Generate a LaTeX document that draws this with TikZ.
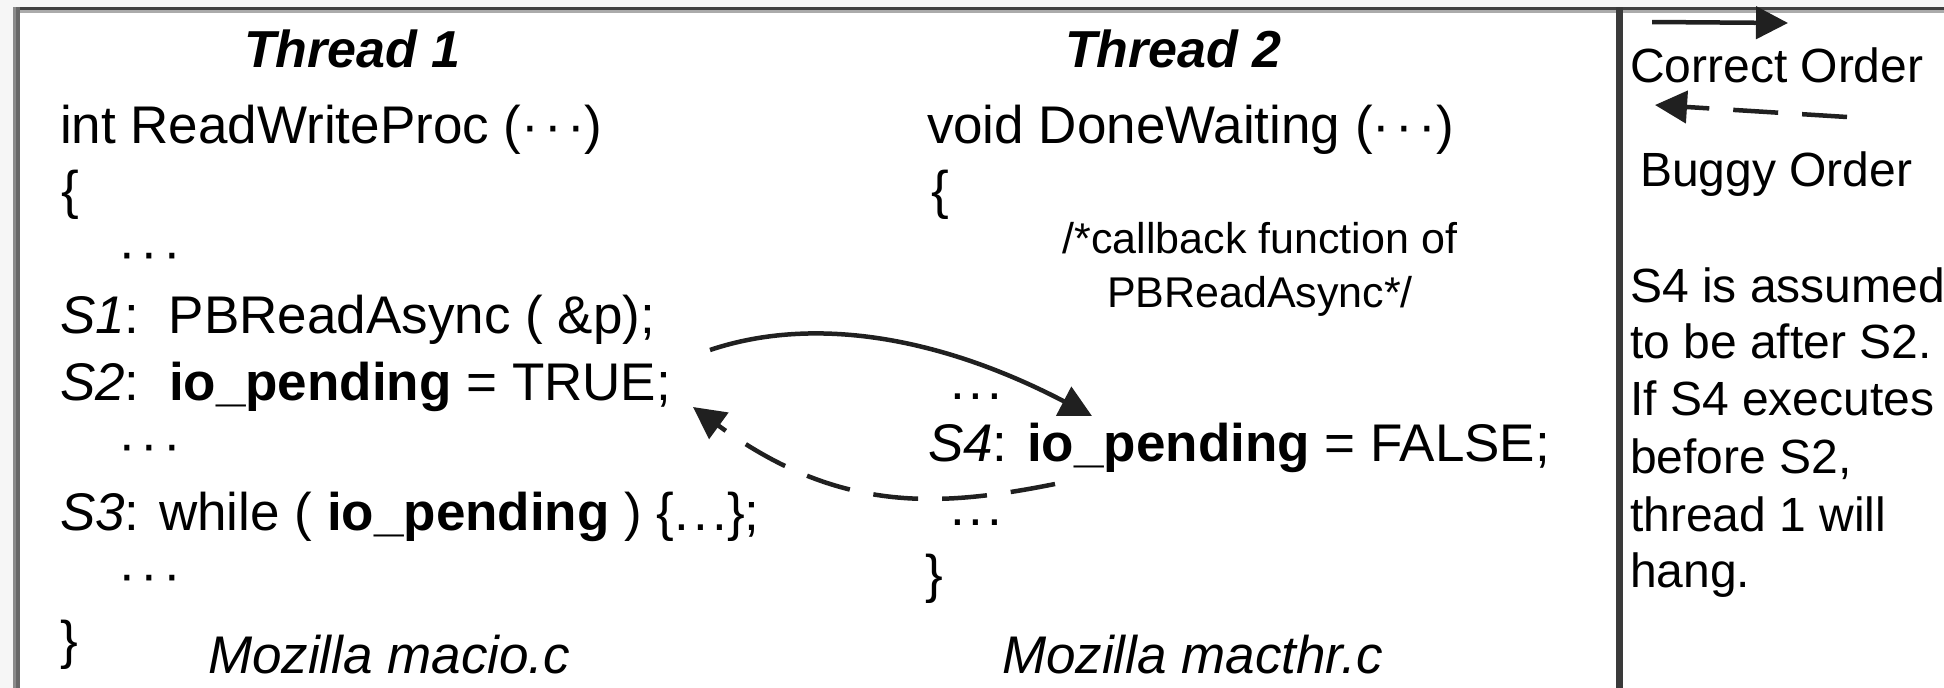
\documentclass[tikz,border=0pt]{standalone}
\usepackage{fontspec}
\setmainfont{Liberation Sans}
\usetikzlibrary{arrows.meta}
\definecolor{linec}{HTML}{202020}
\definecolor{topdark}{HTML}{404040}
\definecolor{toplight}{HTML}{ABABAB}
\definecolor{leftlight}{HTML}{8A8A8A}
\definecolor{leftdark}{HTML}{686868}
\definecolor{divc}{HTML}{3A3A3A}
\definecolor{outerbg}{HTML}{F6F6F6}
\newcommand{\cdd}{·\kern0.1em·\kern0.1em·}
\newcommand{\ddd}{.\kern0.08em.\kern0.08em.}
\begin{document}
\begin{tikzpicture}[x=1pt,y=-1pt,
  txt/.style={anchor=base west, inner sep=0pt, outer sep=0pt},
  code/.style={txt, font=\fontsize{53}{60}\selectfont},
  codeit/.style={txt, font=\fontsize{53}{60}\selectfont\itshape},
  head/.style={txt, font=\fontsize{52}{60}\selectfont\bfseries\itshape},
  note/.style={txt, font=\fontsize{48}{57}\selectfont},
  cmt/.style={anchor=base, inner sep=0pt, outer sep=0pt, font=\fontsize{43}{50}\selectfont},
  flow/.style={draw=linec, line width=4.5pt, -{Triangle[length=32pt,width=32pt]}},
  buggy/.style={flow, dash pattern=on 45pt off 24pt},
]
\useasboundingbox (0,0) rectangle (1944,688);
\fill[white] (0,0) rectangle (1944,688);
\fill[outerbg] (0,0) rectangle (1944,7);
\fill[outerbg] (0,7) rectangle (13,688);
% frame
\draw[topdark, line width=3pt] (13,8.5) -- (1944,8.5);
\draw[toplight, line width=3pt] (16,11.5) -- (1944,11.5);
\draw[leftlight, line width=3.4pt] (14.4,7) -- (14.4,688);
\draw[leftdark, line width=4pt] (18,7) -- (18,688);
\draw[divc, line width=7pt] (1619.5,7) -- (1619.5,688);
% thread 1
\node[head] (t1) at (244,67) {Thread 1};
\node[code] (f1) at (60,143) {int ReadWriteProc (\cdd)};
\node[code] (ob1) at (61,208) {\{};
\node[code] (d1) at (118,270) {\cdd};
\node[code] (s1) at (60,333) {\textit{S1}:\ \ PBReadAsync ( \&p);};
\node[code] (s2) at (60,400) {\textit{S2}:\ \ \textbf{io\_pending} = TRUE;};
\node[code] (d2) at (118,462) {\cdd};
\node[code] (s3) at (60,530) {\textit{S3}: while ( \textbf{io\_pending} ) \{\ddd\};};
\node[code] (d3) at (118,592) {\cdd};
\node[code] (cb1) at (60,658) {\}};
\node[codeit] (m1) at (208,673) {Mozilla macio.c};
% thread 2
\node[head] (t2) at (1065,67) {Thread 2};
\node[code] (f2) at (927,143) {void DoneWaiting (\cdd)};
\node[code] (ob2) at (931,208) {\{};
\node[cmt] (c1) at (1260,253) {/*callback function of};
\node[cmt] (c2) at (1260,307) {PBReadAsync*/};
\node[code] (e1) at (950,399) {\ddd};
\node[code] (s4) at (928,461) {\textit{S4}: \textbf{io\_pending} = FALSE;};
\node[code] (e2) at (950,525) {\ddd};
\node[code] (cb2) at (925,592) {\}};
\node[codeit] (m2) at (1002,673) {Mozilla macthr.c};
% legend
\node[note] (co) at (1630,82) {Correct Order};
\node[note] (bo) at (1640,186) {Buggy Order};
\node[note] (n1) at (1630,302) {S4 is assumed};
\node[note] (n2) at (1630,358) {to be after S2.};
\node[note] (n3) at (1630,415) {If S4 executes};
\node[note] (n4) at (1630,473) {before S2,};
\node[note] (n5) at (1630,531) {thread 1 will};
\node[note] (n6) at (1630,587) {hang.};
% connectors
\coordinate (a1s) at (710,350);
\coordinate (a1e) at (1092,416);
\draw[flow] (a1s) .. controls (814.5,314.8) and (941.4,337.3) .. (a1e);
\coordinate (a2s) at (1055,484);
\coordinate (a2e) at (693,407);
\draw[buggy] (a2s) .. controls (937.4,507.5) and (838.3,513.2) .. (a2e);
\coordinate (l1s) at (1652,22);
\coordinate (l1e) at (1788,23);
\draw[flow] (l1s) -- (l1e);
\coordinate (l2s) at (1847,117);
\coordinate (l2e) at (1655,105);
\draw[buggy] (l2s) -- (l2e);
\end{tikzpicture}
\end{document}
